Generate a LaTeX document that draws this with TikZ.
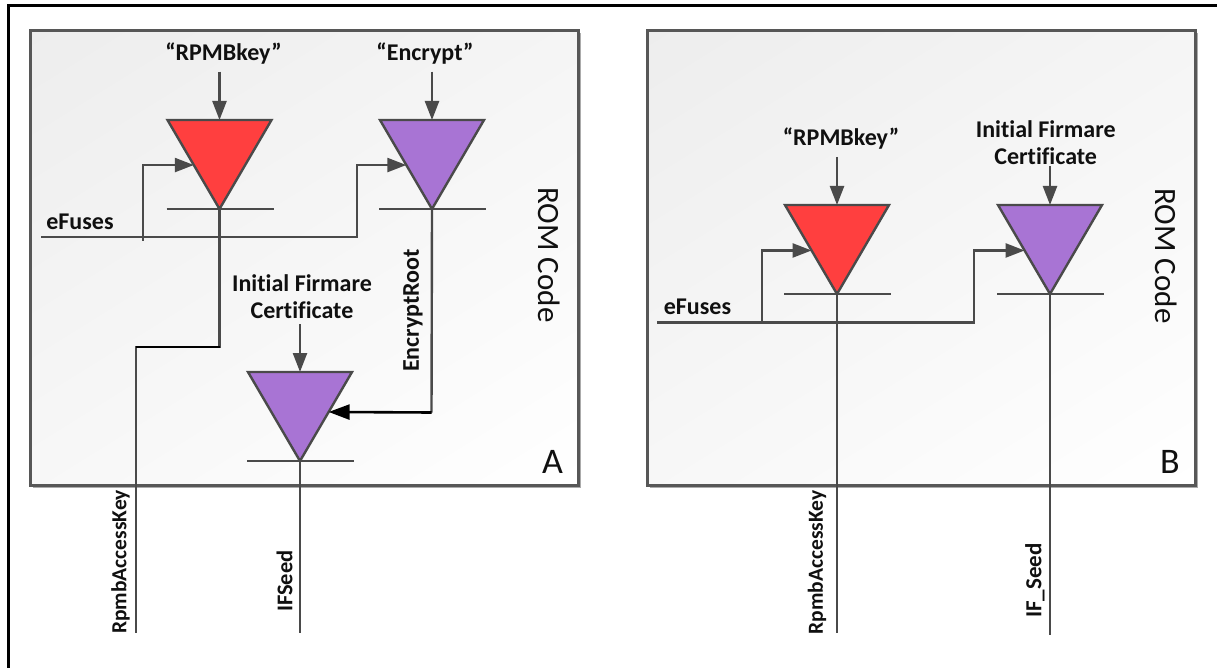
\documentclass[tikz,border=0pt]{standalone}
\usepackage{fontspec}
\setmainfont{Carlito}[Ligatures=NoCommon]
\usetikzlibrary{arrows.meta,calc,shadings}

\definecolor{wirecol}{HTML}{4A4A4A}
\definecolor{keyred}{HTML}{FF3F3F}
\definecolor{keypurple}{HTML}{A874D4}
\definecolor{boxedge}{HTML}{575757}
\definecolor{txt}{HTML}{101010}

% Gate: inverted triangle with a bar under its apex.
% #1 name, #2 centre x, #3 top y, #4 fill colour
\newcommand\drawgate[4]{%
  \coordinate (#1l) at (#2-52,#3);
  \coordinate (#1r) at (#2+52,#3);
  \coordinate (#1top) at (#2,#3);
  \coordinate (#1apex) at (#2,#3+89);
  \filldraw[gatestyle, fill=#4] (#1l) -- (#1r) -- (#1apex) -- cycle;
  \draw[wire] ($(#1apex)+(-53,0)$) -- ($(#1apex)+(54,0)$);
}

\begin{document}
\begin{tikzpicture}[x=1pt,y=-1pt,
  wire/.style={draw=wirecol, line width=2.4pt},
  gatestyle/.style={draw=wirecol, line width=2.4pt, line join=miter},
  feed/.style={wire, -{Triangle[length=19pt,width=14pt]}},
  darkfeed/.style={draw=black, line width=2.6pt, -{Triangle[length=21pt,width=15pt]}},
  lbl/.style={font=\fontsize{24}{27.5}\selectfont\bfseries, text=txt, inner sep=0pt, align=center},
  vlbl/.style={lbl, rotate=90, font=\fontsize{#1}{26}\selectfont\bfseries},
  romlbl/.style={font=\fontsize{31}{34}\selectfont, text=txt, inner sep=0pt, rotate=-90},
  tag/.style={font=\fontsize{36}{40}\selectfont, text=txt, inner sep=0pt},
  panel/.style={draw=boxedge, line width=2.7pt, anchor=north west, inner sep=0pt,
    minimum width=548pt, minimum height=455pt,
    upper left=black!7, upper right=black!4, lower left=black!3, lower right=white},
  shadowbox/.style={fill=black!33}
]
\useasboundingbox (0,0) rectangle (1217,668);

% frame along the top and left edges
\draw[line width=3pt] (8.5,668) -- (8.5,5.5) -- (1217,5.5);

% ---------------- panel A ----------------
\fill[shadowbox] (33,33) rectangle (581,488);
\node[panel] (boxA) at (29,29) {};

\drawgate{ga}{219.5}{120}{keyred}
\drawgate{gb}{432}{120}{keypurple}
\drawgate{gc}{300}{372}{keypurple}

\coordinate (gain) at ($(gal)!0.506!(gaapex)$);
\coordinate (gbin) at ($(gbl)!0.506!(gbapex)$);
\coordinate (gcin) at ($(gcr)!0.449!(gcapex)$);

\node[lbl] (rpmbA) at (223.5,54) {“RPMBkey”};
\node[lbl] (encA) at (425,54) {“Encrypt”};
\node[lbl] (efA) at (80,222) {eFuses};
\node[lbl] (ifcA) at (302,296.5) {Initial Firmare\\Certificate};
\node[vlbl=24] (erA) at (413,310.5) {EncryptRoot};
\node[vlbl=21.5] (rakA) at (120.5,562) {RpmbAccessKey};
\node[vlbl=22.5] (ifsA) at (284.6,581) {IFSeed};
\node[romlbl] (romA) at (549,255) {ROM Code};
\node[tag] (tagA) at (552.5,462) {A};

\coordinate (kaA) at (219.5,71.6);
\coordinate (kbA) at (432,71.6);
\coordinate (kcA) at (300,324);
\draw[feed] (kaA) -- (gatop);
\draw[feed] (kbA) -- (gbtop);
\draw[feed] (kcA) -- (gctop);

% eFuses bus into both upper gates
\coordinate (efAs) at (41,237);
\coordinate (efAb) at (143,240.7);
\draw[feed] (efAs) -- (357,237) |- (gbin);
\draw[feed] (efAb) |- (gain);

% RpmbAccessKey output
\coordinate (rakAend) at (136,633);
\draw[wire] (gaapex) -- (219.5,347) -- (136,347) -- (rakAend);
\draw[black, line width=2.6pt] (219.5,347) -- (136,347);

% EncryptRoot into the lower gate
\coordinate (erAc) at (431.5,412.5);
\draw[wire] (gbapex) -- (erAc);
\draw[darkfeed] (erAc) -- (gcin);

% IFSeed output
\coordinate (ifsAend) at (300,633);
\draw[wire] (gcapex) -- (ifsAend);

% ---------------- panel B ----------------
\fill[shadowbox] (650,33) rectangle (1198,488);
\node[panel] (boxB) at (646,29) {};

\drawgate{gd}{837}{205}{keyred}
\drawgate{ge}{1050}{205}{keypurple}

\coordinate (gdin) at ($(gdl)!0.511!(gdapex)$);
\coordinate (gein) at ($(gel)!0.511!(geapex)$);

\node[lbl] (rpmbB) at (841,138.5) {“RPMBkey”};
\node[lbl] (ifcB) at (1045.7,142.7) {Initial Firmare\\Certificate};
\node[lbl] (efB) at (697.5,306.8) {eFuses};
\node[vlbl=21.5] (rakB) at (817,562.5) {RpmbAccessKey};
\node[vlbl=23] (ifsB) at (1035,580.5) {IF\_Seed};
\node[romlbl] (romB) at (1166.5,256) {ROM Code};
\node[tag] (tagB) at (1170,462) {B};

\coordinate (kaB) at (837,157);
\coordinate (kbB) at (1050,166);
\draw[feed] (kaB) -- (gdtop);
\draw[feed] (kbB) -- (getop);

\coordinate (efBs) at (657,322.5);
\coordinate (efBb) at (761.7,322.5);
\draw[feed] (efBs) -- (974,322.5) |- (gein);
\draw[feed] (efBb) |- (gdin);

\coordinate (rakBend) at (837,633);
\coordinate (ifsBend) at (1050,635);
\draw[wire] (gdapex) -- (rakBend);
\draw[wire] (geapex) -- (ifsBend);
\end{tikzpicture}
\end{document}
